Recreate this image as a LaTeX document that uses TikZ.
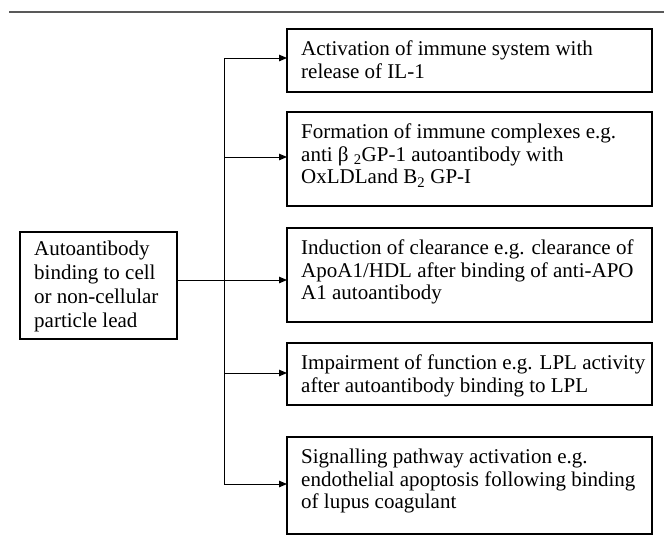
\documentclass[tikz,border=0pt]{standalone}
\usepackage{fontspec}
\setmainfont{Liberation Serif}
\usetikzlibrary{arrows.meta}
\begin{document}
\begin{tikzpicture}[x=1pt,y=1pt,
  box/.style={draw,line width=1.4pt},
  txt/.style={anchor=north west,align=left,inner sep=0pt,font=\fontsize{21}{22.5}\selectfont},
  ltxt/.style={anchor=north west,align=left,inner sep=0pt,font=\fontsize{21}{24}\selectfont},
  conn/.style={line width=1pt},
  arr/.style={line width=1pt,-{Triangle[length=8pt,width=6.5pt]}}]
\useasboundingbox (0,0) rectangle (664,-539);
\draw[line width=1.5pt,color=black!65] (9,-12) -- (664,-12);
% left box
\draw[box] (20,-232) rectangle (177,-339);
\node[ltxt] (lt) at (34,-241) {Autoantibody\\binding to cell\\or non-cellular\\particle lead};
% right boxes
\draw[box] (287,-29) rectangle (652,-92);
\draw[box] (287,-112) rectangle (652,-206);
\draw[box] (287,-228) rectangle (652,-322);
\draw[box] (287,-343) rectangle (652,-405);
\draw[box] (287,-437) rectangle (652,-534);
\node[txt] (t1) at (301,-41) {Activation of immune system with\\release of IL-1};
\node[txt] (t2) at (301,-124) {Formation of immune complexes e.g.\\anti β \textsubscript{2}GP-1 autoantibody with\\OxLDLand B\textsubscript{2} GP-I};
\node[txt] (t3) at (301,-240) {Induction of clearance e.g. clearance of\\ApoA1/HDL after binding of anti-APO\\A1 autoantibody};
\node[txt] (t4) at (301,-355) {Impairment of function e.g. LPL activity\\after autoantibody binding to LPL};
\node[txt] (t5) at (301,-449) {Signalling pathway activation e.g.\\endothelial apoptosis following binding\\of lupus coagulant};
% connectors
\coordinate (src) at (177,-280);
\coordinate (vt) at (224,-58);
\coordinate (vb) at (224,-484);
\coordinate (a1) at (287,-58);
\coordinate (a2) at (287,-157);
\coordinate (a3) at (287,-280);
\coordinate (a4) at (287,-373);
\coordinate (a5) at (287,-484);
\draw[conn] (vt) -- (vb);
\draw[arr] (src) -- (a3);
\draw[arr] (vt) -- (a1);
\draw[arr] (vt |- a2) -- (a2);
\draw[arr] (vt |- a4) -- (a4);
\draw[arr] (vb) -- (a5);
\end{tikzpicture}
\end{document}
